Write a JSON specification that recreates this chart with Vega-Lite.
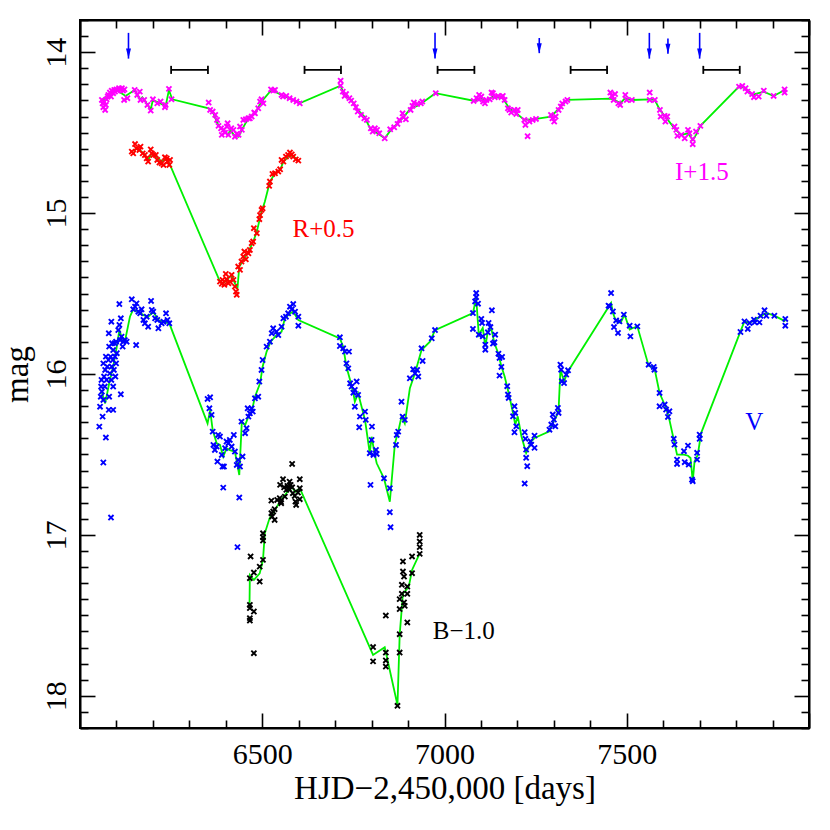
{
"$schema": "https://vega.github.io/schema/vega-lite/v6.json",
"autosize": "none",
"padding": {"left": 80, "top": 20, "right": 21, "bottom": 102},
"width": 729,
"height": 708,
"background": "white",
"config": {
  "view": {"stroke": "black", "strokeWidth": 2},
  "font": "Liberation Serif",
  "axis": {"grid": false, "domainColor": "black", "domainWidth": 2, "tickColor": "black", "tickWidth": 1.6, "labelFont": "Liberation Serif", "labelFontSize": 30, "labelColor": "black", "titleFont": "Liberation Serif", "titleFontSize": 33, "titleFontWeight": "normal", "titleColor": "black", "labelOverlap": false, "labelFlush": false, "labelBound": false}
},
"resolve": {"axis": {"x": "independent", "y": "independent"}},
"datasets": {
"pts": [
{"b":"I","t":6060,"m":14.297},{"b":"I","t":6062,"m":14.318},{"b":"I","t":6064,"m":14.342},{"b":"I","t":6066,"m":14.307},{"b":"I","t":6069,"m":14.359},{"b":"I","t":6071,"m":14.328},{"b":"I","t":6073,"m":14.293},{"b":"I","t":6076,"m":14.276},{"b":"I","t":6078,"m":14.266},{"b":"I","t":6082,"m":14.251},{"b":"I","t":6085,"m":14.276},{"b":"I","t":6087,"m":14.239},{"b":"I","t":6091,"m":14.255},{"b":"I","t":6094,"m":14.235},{"b":"I","t":6096,"m":14.245},{"b":"I","t":6100,"m":14.231},{"b":"I","t":6103,"m":14.239},{"b":"I","t":6107,"m":14.224},{"b":"I","t":6111,"m":14.235},{"b":"I","t":6115,"m":14.224},{"b":"I","t":6118,"m":14.239},{"b":"I","t":6122,"m":14.231},{"b":"I","t":6121,"m":14.297},{"b":"I","t":6130,"m":14.286},{"b":"I","t":6150,"m":14.235},{"b":"I","t":6157,"m":14.266},{"b":"I","t":6164,"m":14.245},{"b":"I","t":6166,"m":14.297},{"b":"I","t":6176,"m":14.297},{"b":"I","t":6185,"m":14.328},{"b":"I","t":6194,"m":14.363},{"b":"I","t":6200,"m":14.293},{"b":"I","t":6212,"m":14.318},{"b":"I","t":6221,"m":14.307},{"b":"I","t":6233,"m":14.342},{"b":"I","t":6235,"m":14.328},{"b":"I","t":6244,"m":14.228},{"b":"I","t":6251,"m":14.293},
{"b":"I","t":6353,"m":14.313},{"b":"I","t":6357,"m":14.359},{"b":"I","t":6364,"m":14.369},{"b":"I","t":6371,"m":14.39},{"b":"I","t":6376,"m":14.421},{"b":"I","t":6380,"m":14.458},{"b":"I","t":6387,"m":14.473},{"b":"I","t":6389,"m":14.514},{"b":"I","t":6394,"m":14.483},{"b":"I","t":6398,"m":14.5},{"b":"I","t":6403,"m":14.462},{"b":"I","t":6407,"m":14.514},{"b":"I","t":6405,"m":14.442},{"b":"I","t":6415,"m":14.473},{"b":"I","t":6421,"m":14.483},{"b":"I","t":6425,"m":14.525},{"b":"I","t":6430,"m":14.508},{"b":"I","t":6435,"m":14.514},{"b":"I","t":6439,"m":14.462},{"b":"I","t":6444,"m":14.483},{"b":"I","t":6448,"m":14.421},{"b":"I","t":6455,"m":14.417},{"b":"I","t":6462,"m":14.411},{"b":"I","t":6466,"m":14.411},{"b":"I","t":6471,"m":14.4},{"b":"I","t":6478,"m":14.375},{"b":"I","t":6480,"m":14.38},{"b":"I","t":6489,"m":14.349},{"b":"I","t":6494,"m":14.307},{"b":"I","t":6498,"m":14.293},{"b":"I","t":6503,"m":14.318},{"b":"I","t":6524,"m":14.231},{"b":"I","t":6530,"m":14.239},{"b":"I","t":6535,"m":14.235},{"b":"I","t":6553,"m":14.266},{"b":"I","t":6557,"m":14.276},{"b":"I","t":6566,"m":14.272},{"b":"I","t":6575,"m":14.286},{"b":"I","t":6585,"m":14.297},{"b":"I","t":6594,"m":14.307},{"b":"I","t":6603,"m":14.318},
{"b":"I","t":6715,"m":14.177},{"b":"I","t":6715,"m":14.208},{"b":"I","t":6721,"m":14.245},{"b":"I","t":6726,"m":14.272},{"b":"I","t":6730,"m":14.26},{"b":"I","t":6739,"m":14.286},{"b":"I","t":6744,"m":14.301},{"b":"I","t":6751,"m":14.318},{"b":"I","t":6757,"m":14.342},{"b":"I","t":6762,"m":14.369},{"b":"I","t":6771,"m":14.39},{"b":"I","t":6780,"m":14.411},{"b":"I","t":6787,"m":14.421},{"b":"I","t":6798,"m":14.473},{"b":"I","t":6803,"m":14.493},{"b":"I","t":6809,"m":14.473},{"b":"I","t":6815,"m":14.483},{"b":"I","t":6821,"m":14.504},{"b":"I","t":6836,"m":14.535},{"b":"I","t":6851,"m":14.479},{"b":"I","t":6862,"m":14.467},{"b":"I","t":6871,"m":14.446},{"b":"I","t":6876,"m":14.421},{"b":"I","t":6885,"m":14.38},{"b":"I","t":6887,"m":14.404},{"b":"I","t":6894,"m":14.417},{"b":"I","t":6907,"m":14.359},{"b":"I","t":6912,"m":14.334},{"b":"I","t":6916,"m":14.313},{"b":"I","t":6925,"m":14.322},{"b":"I","t":6935,"m":14.318},{"b":"I","t":6939,"m":14.307},{"b":"I","t":6976,"m":14.255},{"b":"I","t":7080,"m":14.303},{"b":"I","t":7094,"m":14.293},
{"b":"I","t":7088,"m":14.286},{"b":"I","t":7095,"m":14.266},{"b":"I","t":7101,"m":14.276},{"b":"I","t":7106,"m":14.307},{"b":"I","t":7111,"m":14.318},{"b":"I","t":7115,"m":14.297},{"b":"I","t":7124,"m":14.293},{"b":"I","t":7129,"m":14.251},{"b":"I","t":7133,"m":14.255},{"b":"I","t":7138,"m":14.28},{"b":"I","t":7147,"m":14.272},{"b":"I","t":7156,"m":14.28},{"b":"I","t":7160,"m":14.272},{"b":"I","t":7165,"m":14.297},{"b":"I","t":7174,"m":14.349},{"b":"I","t":7178,"m":14.359},{"b":"I","t":7183,"m":14.375},{"b":"I","t":7192,"m":14.359},{"b":"I","t":7197,"m":14.384},{"b":"I","t":7201,"m":14.359},{"b":"I","t":7219,"m":14.421},{"b":"I","t":7222,"m":14.452},{"b":"I","t":7228,"m":14.522},{"b":"I","t":7233,"m":14.431},{"b":"I","t":7242,"m":14.421},{"b":"I","t":7251,"m":14.415},{"b":"I","t":7292,"m":14.39},{"b":"I","t":7296,"m":14.411},{"b":"I","t":7301,"m":14.431},{"b":"I","t":7305,"m":14.4},{"b":"I","t":7313,"m":14.359},{"b":"I","t":7319,"m":14.338},{"b":"I","t":7323,"m":14.318},{"b":"I","t":7332,"m":14.307},{"b":"I","t":7337,"m":14.297},{"b":"I","t":7455,"m":14.251},{"b":"I","t":7459,"m":14.272},{"b":"I","t":7464,"m":14.297},{"b":"I","t":7468,"m":14.26},{"b":"I","t":7477,"m":14.318},{"b":"I","t":7482,"m":14.328},{"b":"I","t":7496,"m":14.266},{"b":"I","t":7500,"m":14.297},{"b":"I","t":7514,"m":14.297},{"b":"I","t":7563,"m":14.251},{"b":"I","t":7563,"m":14.297},{"b":"I","t":7577,"m":14.297},{"b":"I","t":7591,"m":14.359},{"b":"I","t":7593,"m":14.4},{"b":"I","t":7604,"m":14.396},{"b":"I","t":7606,"m":14.431},{"b":"I","t":7611,"m":14.4},{"b":"I","t":7631,"m":14.462},{"b":"I","t":7636,"m":14.483},{"b":"I","t":7639,"m":14.52},{"b":"I","t":7650,"m":14.514},{"b":"I","t":7659,"m":14.535},{"b":"I","t":7668,"m":14.483},{"b":"I","t":7672,"m":14.504},{"b":"I","t":7681,"m":14.541},{"b":"I","t":7681,"m":14.572},{"b":"I","t":7690,"m":14.493},{"b":"I","t":7702,"m":14.458},{"b":"I","t":7808,"m":14.214},{"b":"I","t":7817,"m":14.21},{"b":"I","t":7826,"m":14.224},{"b":"I","t":7831,"m":14.245},{"b":"I","t":7844,"m":14.26},{"b":"I","t":7849,"m":14.28},{"b":"I","t":7862,"m":14.276},{"b":"I","t":7876,"m":14.239},{"b":"I","t":7903,"m":14.272},{"b":"I","t":7933,"m":14.231},{"b":"I","t":7933,"m":14.251},
{"b":"R","t":6142,"m":14.618},{"b":"R","t":6146,"m":14.629},{"b":"R","t":6151,"m":14.571},{"b":"R","t":6155,"m":14.598},{"b":"R","t":6163,"m":14.608},{"b":"R","t":6166,"m":14.587},{"b":"R","t":6172,"m":14.629},{"b":"R","t":6178,"m":14.639},{"b":"R","t":6183,"m":14.66},{"b":"R","t":6187,"m":14.68},{"b":"R","t":6194,"m":14.604},{"b":"R","t":6197,"m":14.629},{"b":"R","t":6201,"m":14.639},{"b":"R","t":6208,"m":14.639},{"b":"R","t":6212,"m":14.67},{"b":"R","t":6218,"m":14.686},{"b":"R","t":6224,"m":14.691},{"b":"R","t":6229,"m":14.701},{"b":"R","t":6233,"m":14.653},{"b":"R","t":6238,"m":14.66},{"b":"R","t":6240,"m":14.68},{"b":"R","t":6245,"m":14.701},{"b":"R","t":6247,"m":14.67},{"b":"R","t":6384,"m":15.426},{"b":"R","t":6389,"m":15.44},{"b":"R","t":6391,"m":15.415},{"b":"R","t":6396,"m":15.446},{"b":"R","t":6400,"m":15.378},{"b":"R","t":6402,"m":15.411},{"b":"R","t":6407,"m":15.436},{"b":"R","t":6411,"m":15.426},{"b":"R","t":6416,"m":15.384},{"b":"R","t":6421,"m":15.415},{"b":"R","t":6425,"m":15.457},{"b":"R","t":6428,"m":15.488},{"b":"R","t":6430,"m":15.508},{"b":"R","t":6434,"m":15.332},{"b":"R","t":6439,"m":15.353},{"b":"R","t":6443,"m":15.301},{"b":"R","t":6448,"m":15.27},{"b":"R","t":6451,"m":15.239},{"b":"R","t":6455,"m":15.287},{"b":"R","t":6462,"m":15.25},{"b":"R","t":6466,"m":15.229},{"b":"R","t":6471,"m":15.187},{"b":"R","t":6475,"m":15.177},{"b":"R","t":6477,"m":15.094},{"b":"R","t":6485,"m":15.125},{"b":"R","t":6492,"m":15.038},{"b":"R","t":6494,"m":15.012},{"b":"R","t":6498,"m":14.98},{"b":"R","t":6501,"m":14.97},{"b":"R","t":6519,"m":14.831},{"b":"R","t":6521,"m":14.804},{"b":"R","t":6528,"m":14.757},{"b":"R","t":6535,"m":14.753},{"b":"R","t":6544,"m":14.742},{"b":"R","t":6549,"m":14.728},{"b":"R","t":6553,"m":14.67},{"b":"R","t":6558,"m":14.68},{"b":"R","t":6565,"m":14.649},{"b":"R","t":6571,"m":14.639},{"b":"R","t":6576,"m":14.624},{"b":"R","t":6581,"m":14.635},{"b":"R","t":6585,"m":14.649},{"b":"R","t":6592,"m":14.666},{"b":"R","t":6599,"m":14.674},
{"b":"V","t":6053,"m":16.327},{"b":"V","t":6055,"m":16.203},{"b":"V","t":6057,"m":16.141},{"b":"V","t":6058,"m":16.078},{"b":"V","t":6059,"m":16.037},{"b":"V","t":6060,"m":16.109},{"b":"V","t":6062,"m":16.265},{"b":"V","t":6064,"m":16.161},{"b":"V","t":6064,"m":15.934},{"b":"V","t":6066,"m":16.016},{"b":"V","t":6068,"m":16.078},{"b":"V","t":6069,"m":15.975},{"b":"V","t":6071,"m":15.892},{"b":"V","t":6073,"m":16.037},{"b":"V","t":6075,"m":15.954},{"b":"V","t":6078,"m":15.913},{"b":"V","t":6079,"m":16.223},{"b":"V","t":6080,"m":16.141},{"b":"V","t":6080,"m":15.83},{"b":"V","t":6082,"m":15.996},{"b":"V","t":6084,"m":15.892},{"b":"V","t":6086,"m":16.037},{"b":"V","t":6087,"m":15.954},{"b":"V","t":6088,"m":15.809},{"b":"V","t":6090,"m":15.913},{"b":"V","t":6091,"m":16.078},{"b":"V","t":6091,"m":15.851},{"b":"V","t":6093,"m":15.975},{"b":"V","t":6095,"m":15.809},{"b":"V","t":6096,"m":15.892},{"b":"V","t":6097,"m":16.016},{"b":"V","t":6099,"m":15.934},{"b":"V","t":6099,"m":15.799},{"b":"V","t":6101,"m":15.871},{"b":"V","t":6105,"m":15.727},{"b":"V","t":6108,"m":15.695},{"b":"V","t":6110,"m":15.789},{"b":"V","t":6112,"m":15.654},{"b":"V","t":6114,"m":15.768},{"b":"V","t":6117,"m":15.83},{"b":"V","t":6119,"m":15.799},{"b":"V","t":6123,"m":15.789},{"b":"V","t":6128,"m":15.799},{"b":"V","t":6064,"m":16.55},{"b":"V","t":6071,"m":16.395},{"b":"V","t":6085,"m":16.892},{"b":"V","t":6112,"m":16.126},{"b":"V","t":6091,"m":16.223},{"b":"V","t":6108,"m":15.565},{"b":"V","t":6086,"m":15.675},{"b":"V","t":6079,"m":15.747},
{"b":"V","t":6142,"m":15.536},{"b":"V","t":6146,"m":15.598},{"b":"V","t":6151,"m":15.582},{"b":"V","t":6155,"m":15.561},{"b":"V","t":6160,"m":15.613},{"b":"V","t":6165,"m":15.623},{"b":"V","t":6169,"m":15.598},{"b":"V","t":6174,"m":15.664},{"b":"V","t":6178,"m":15.685},{"b":"V","t":6183,"m":15.644},{"b":"V","t":6187,"m":15.706},{"b":"V","t":6195,"m":15.546},{"b":"V","t":6197,"m":15.602},{"b":"V","t":6201,"m":15.613},{"b":"V","t":6206,"m":15.654},{"b":"V","t":6212,"m":15.664},{"b":"V","t":6215,"m":15.716},{"b":"V","t":6224,"m":15.685},{"b":"V","t":6229,"m":15.675},{"b":"V","t":6236,"m":15.623},{"b":"V","t":6240,"m":15.664},{"b":"V","t":6245,"m":15.685},{"b":"V","t":6154,"m":15.82},
{"b":"V","t":6350,"m":16.155},{"b":"V","t":6357,"m":16.145},{"b":"V","t":6355,"m":16.213},{"b":"V","t":6361,"m":16.254},{"b":"V","t":6364,"m":16.358},{"b":"V","t":6366,"m":16.441},{"b":"V","t":6370,"m":16.472},{"b":"V","t":6375,"m":16.451},{"b":"V","t":6377,"m":16.544},{"b":"V","t":6379,"m":16.379},{"b":"V","t":6384,"m":16.389},{"b":"V","t":6389,"m":16.503},{"b":"V","t":6391,"m":16.575},{"b":"V","t":6395,"m":16.575},{"b":"V","t":6398,"m":16.461},{"b":"V","t":6402,"m":16.42},{"b":"V","t":6407,"m":16.43},{"b":"V","t":6411,"m":16.41},{"b":"V","t":6416,"m":16.451},{"b":"V","t":6422,"m":16.379},{"b":"V","t":6425,"m":16.482},{"b":"V","t":6430,"m":16.565},{"b":"V","t":6434,"m":16.534},{"b":"V","t":6439,"m":16.575},{"b":"V","t":6443,"m":16.296},{"b":"V","t":6446,"m":16.513},{"b":"V","t":6453,"m":16.368},{"b":"V","t":6457,"m":16.337},{"b":"V","t":6460,"m":16.213},{"b":"V","t":6462,"m":16.265},{"b":"V","t":6466,"m":16.244},{"b":"V","t":6471,"m":16.213},{"b":"V","t":6474,"m":16.234},{"b":"V","t":6480,"m":16.151},{"b":"V","t":6489,"m":16.141},{"b":"V","t":6492,"m":16.047},{"b":"V","t":6498,"m":15.975},{"b":"V","t":6501,"m":15.913},{"b":"V","t":6512,"m":15.83},{"b":"V","t":6521,"m":15.799},{"b":"V","t":6526,"m":15.747},{"b":"V","t":6530,"m":15.716},{"b":"V","t":6539,"m":15.737},{"b":"V","t":6544,"m":15.758},{"b":"V","t":6553,"m":15.706},{"b":"V","t":6558,"m":15.654},{"b":"V","t":6565,"m":15.644},{"b":"V","t":6571,"m":15.623},{"b":"V","t":6576,"m":15.582},{"b":"V","t":6581,"m":15.598},{"b":"V","t":6585,"m":15.565},{"b":"V","t":6590,"m":15.613},{"b":"V","t":6599,"m":15.644},{"b":"V","t":6599,"m":15.7},{"b":"V","t":6393,"m":16.706},{"b":"V","t":6437,"m":16.768},{"b":"V","t":6432,"m":17.076},
{"b":"V","t":6713,"m":15.772},{"b":"V","t":6713,"m":15.826},{"b":"V","t":6722,"m":15.84},{"b":"V","t":6727,"m":15.861},{"b":"V","t":6731,"m":15.934},{"b":"V","t":6736,"m":15.965},{"b":"V","t":6738,"m":15.861},{"b":"V","t":6741,"m":16.058},{"b":"V","t":6745,"m":16.078},{"b":"V","t":6750,"m":16.116},{"b":"V","t":6754,"m":16.099},{"b":"V","t":6759,"m":16.047},{"b":"V","t":6763,"m":16.13},{"b":"V","t":6754,"m":16.203},{"b":"V","t":6768,"m":16.265},{"b":"V","t":6766,"m":16.331},{"b":"V","t":6782,"m":16.234},{"b":"V","t":6784,"m":16.285},{"b":"V","t":6795,"m":16.492},{"b":"V","t":6797,"m":16.689},{"b":"V","t":6800,"m":16.41},{"b":"V","t":6801,"m":16.327},{"b":"V","t":6805,"m":16.503},{"b":"V","t":6812,"m":16.472},{"b":"V","t":6814,"m":16.497},{"b":"V","t":6834,"m":16.648},{"b":"V","t":6850,"m":16.859},{"b":"V","t":6852,"m":16.952},{"b":"V","t":6850,"m":16.71},{"b":"V","t":6867,"m":16.441},{"b":"V","t":6869,"m":16.379},{"b":"V","t":6873,"m":16.358},{"b":"V","t":6882,"m":16.172},{"b":"V","t":6885,"m":16.265},{"b":"V","t":6891,"m":16.285},{"b":"V","t":6905,"m":16.027},{"b":"V","t":6914,"m":15.971},{"b":"V","t":6919,"m":15.996},{"b":"V","t":6925,"m":15.975},{"b":"V","t":6928,"m":16.016},{"b":"V","t":6937,"m":15.84},{"b":"V","t":6940,"m":15.919},{"b":"V","t":6965,"m":15.778},{"b":"V","t":6974,"m":15.727},
{"b":"V","t":7078,"m":15.621},{"b":"V","t":7078,"m":15.72},{"b":"V","t":7084,"m":15.549},{"b":"V","t":7087,"m":15.497},{"b":"V","t":7087,"m":15.522},{"b":"V","t":7092,"m":15.563},{"b":"V","t":7094,"m":15.756},{"b":"V","t":7101,"m":15.658},{"b":"V","t":7103,"m":15.683},{"b":"V","t":7105,"m":15.766},{"b":"V","t":7112,"m":15.818},{"b":"V","t":7112,"m":15.849},{"b":"V","t":7119,"m":15.741},{"b":"V","t":7121,"m":15.683},{"b":"V","t":7126,"m":15.708},{"b":"V","t":7130,"m":15.604},{"b":"V","t":7133,"m":15.811},{"b":"V","t":7137,"m":15.803},{"b":"V","t":7139,"m":15.756},{"b":"V","t":7148,"m":15.874},{"b":"V","t":7151,"m":15.9},{"b":"V","t":7156,"m":15.956},{"b":"V","t":7151,"m":16.01},{"b":"V","t":7158,"m":15.894},{"b":"V","t":7172,"m":16.076},{"b":"V","t":7174,"m":16.128},{"b":"V","t":7176,"m":16.149},{"b":"V","t":7188,"m":16.263},{"b":"V","t":7192,"m":16.201},{"b":"V","t":7194,"m":16.242},{"b":"V","t":7192,"m":16.362},{"b":"V","t":7197,"m":16.325},{"b":"V","t":7220,"m":16.362},{"b":"V","t":7222,"m":16.403},{"b":"V","t":7224,"m":16.47},{"b":"V","t":7224,"m":16.521},{"b":"V","t":7227,"m":16.573},{"b":"V","t":7220,"m":16.681},{"b":"V","t":7236,"m":16.418},{"b":"V","t":7238,"m":16.439},{"b":"V","t":7247,"m":16.383},{"b":"V","t":7247,"m":16.459},{"b":"V","t":7288,"m":16.346},{"b":"V","t":7293,"m":16.314},{"b":"V","t":7297,"m":16.252},{"b":"V","t":7300,"m":16.283},{"b":"V","t":7304,"m":16.325},{"b":"V","t":7311,"m":16.211},{"b":"V","t":7313,"m":16.242},{"b":"V","t":7318,"m":15.942},{"b":"V","t":7320,"m":15.973},{"b":"V","t":7322,"m":16.045},{"b":"V","t":7328,"m":16.056},{"b":"V","t":7334,"m":16.004},{"b":"V","t":7339,"m":15.977},
{"b":"V","t":7450,"m":15.575},{"b":"V","t":7453,"m":15.58},{"b":"V","t":7457,"m":15.497},{"b":"V","t":7462,"m":15.611},{"b":"V","t":7465,"m":15.708},{"b":"V","t":7471,"m":15.667},{"b":"V","t":7476,"m":15.745},{"b":"V","t":7480,"m":15.673},{"b":"V","t":7492,"m":15.631},{"b":"V","t":7508,"m":15.7},{"b":"V","t":7510,"m":15.766},{"b":"V","t":7529,"m":15.704},{"b":"V","t":7560,"m":15.942},{"b":"V","t":7574,"m":15.956},{"b":"V","t":7576,"m":15.973},{"b":"V","t":7590,"m":16.118},{"b":"V","t":7590,"m":16.201},{"b":"V","t":7604,"m":16.19},{"b":"V","t":7608,"m":16.221},{"b":"V","t":7613,"m":16.267},{"b":"V","t":7617,"m":16.232},{"b":"V","t":7629,"m":16.403},{"b":"V","t":7631,"m":16.439},{"b":"V","t":7638,"m":16.532},{"b":"V","t":7638,"m":16.559},{"b":"V","t":7657,"m":16.48},{"b":"V","t":7659,"m":16.548},{"b":"V","t":7668,"m":16.445},{"b":"V","t":7670,"m":16.563},{"b":"V","t":7679,"m":16.656},{"b":"V","t":7681,"m":16.666},{"b":"V","t":7693,"m":16.49},{"b":"V","t":7693,"m":16.532},{"b":"V","t":7700,"m":16.377},{"b":"V","t":7700,"m":16.403},{"b":"V","t":7812,"m":15.739},{"b":"V","t":7823,"m":15.673},{"b":"V","t":7832,"m":15.72},{"b":"V","t":7837,"m":15.683},{"b":"V","t":7849,"m":15.662},{"b":"V","t":7851,"m":15.679},{"b":"V","t":7864,"m":15.679},{"b":"V","t":7867,"m":15.638},{"b":"V","t":7878,"m":15.604},{"b":"V","t":7883,"m":15.638},{"b":"V","t":7905,"m":15.638},{"b":"V","t":7935,"m":15.658},{"b":"V","t":7935,"m":15.7},
{"b":"B","t":6466,"m":17.269},{"b":"B","t":6466,"m":17.435},{"b":"B","t":6466,"m":17.455},{"b":"B","t":6466,"m":17.517},{"b":"B","t":6466,"m":17.532},{"b":"B","t":6468,"m":17.134},{"b":"B","t":6477,"m":17.234},{"b":"B","t":6477,"m":17.476},{"b":"B","t":6477,"m":17.735},{"b":"B","t":6493,"m":17.197},{"b":"B","t":6493,"m":17.29},{"b":"B","t":6502,"m":17.155},{"b":"B","t":6502,"m":16.99},{"b":"B","t":6502,"m":17.014},{"b":"B","t":6502,"m":17.035},{"b":"B","t":6525,"m":16.787},{"b":"B","t":6525,"m":16.865},{"b":"B","t":6527,"m":16.886},{"b":"B","t":6530,"m":16.855},{"b":"B","t":6534,"m":16.84},{"b":"B","t":6534,"m":16.907},{"b":"B","t":6541,"m":16.783},{"b":"B","t":6548,"m":16.772},{"b":"B","t":6551,"m":16.793},{"b":"B","t":6552,"m":16.803},{"b":"B","t":6549,"m":16.689},{"b":"B","t":6557,"m":16.654},{"b":"B","t":6560,"m":16.704},{"b":"B","t":6562,"m":16.762},{"b":"B","t":6566,"m":16.72},{"b":"B","t":6569,"m":16.696},{"b":"B","t":6573,"m":16.716},{"b":"B","t":6575,"m":16.669},{"b":"B","t":6578,"m":16.689},{"b":"B","t":6582,"m":16.559},{"b":"B","t":6582,"m":16.704},{"b":"B","t":6584,"m":16.741},{"b":"B","t":6589,"m":16.758},{"b":"B","t":6591,"m":16.793},{"b":"B","t":6593,"m":16.814},{"b":"B","t":6598,"m":16.737},{"b":"B","t":6603,"m":16.654},{"b":"B","t":6603,"m":16.71},{"b":"B","t":6603,"m":16.778},{"b":"B","t":6804,"m":17.697},{"b":"B","t":6804,"m":17.786},{"b":"B","t":6839,"m":17.501},{"b":"B","t":6839,"m":17.731},{"b":"B","t":6839,"m":17.78},{"b":"B","t":6839,"m":17.818},{"b":"B","t":6871,"m":18.062},{"b":"B","t":6877,"m":17.399},{"b":"B","t":6877,"m":17.461},{"b":"B","t":6877,"m":17.617},{"b":"B","t":6877,"m":17.731},{"b":"B","t":6883,"m":17.31},{"b":"B","t":6883,"m":17.366},{"b":"B","t":6886,"m":17.165},{"b":"B","t":6886,"m":17.228},{"b":"B","t":6889,"m":17.259},{"b":"B","t":6889,"m":17.42},{"b":"B","t":6891,"m":17.441},{"b":"B","t":6898,"m":17.321},{"b":"B","t":6898,"m":17.366},{"b":"B","t":6898,"m":17.544},{"b":"B","t":6911,"m":17.238},{"b":"B","t":6911,"m":17.134},{"b":"B","t":6932,"m":17.0},{"b":"B","t":6932,"m":17.041},{"b":"B","t":6932,"m":17.076},{"b":"B","t":6932,"m":17.118}
],
"lines": [
{"b":"I","t":6062,"m":14.3},{"b":"I","t":6080,"m":14.26},{"b":"I","t":6100,"m":14.235},{"b":"I","t":6125,"m":14.272},{"b":"I","t":6150,"m":14.235},{"b":"I","t":6164,"m":14.293},{"b":"I","t":6171,"m":14.28},{"b":"I","t":6194,"m":14.355},{"b":"I","t":6200,"m":14.297},{"b":"I","t":6235,"m":14.334},{"b":"I","t":6244,"m":14.235},{"b":"I","t":6253,"m":14.293},{"b":"I","t":6353,"m":14.349},{"b":"I","t":6366,"m":14.38},{"b":"I","t":6380,"m":14.458},{"b":"I","t":6394,"m":14.483},{"b":"I","t":6407,"m":14.514},{"b":"I","t":6412,"m":14.483},{"b":"I","t":6424,"m":14.52},{"b":"I","t":6435,"m":14.525},{"b":"I","t":6444,"m":14.483},{"b":"I","t":6462,"m":14.41},{"b":"I","t":6480,"m":14.38},{"b":"I","t":6498,"m":14.307},{"b":"I","t":6525,"m":14.235},{"b":"I","t":6553,"m":14.266},{"b":"I","t":6580,"m":14.293},{"b":"I","t":6607,"m":14.313},{"b":"I","t":6715,"m":14.208},{"b":"I","t":6725,"m":14.266},{"b":"I","t":6744,"m":14.297},{"b":"I","t":6762,"m":14.359},{"b":"I","t":6780,"m":14.4},{"b":"I","t":6798,"m":14.483},{"b":"I","t":6816,"m":14.504},{"b":"I","t":6836,"m":14.535},{"b":"I","t":6853,"m":14.483},{"b":"I","t":6871,"m":14.442},{"b":"I","t":6889,"m":14.4},{"b":"I","t":6907,"m":14.349},{"b":"I","t":6925,"m":14.334},{"b":"I","t":6944,"m":14.307},{"b":"I","t":6975,"m":14.255},{"b":"I","t":7083,"m":14.303},{"b":"I","t":7097,"m":14.286},{"b":"I","t":7115,"m":14.297},{"b":"I","t":7133,"m":14.276},{"b":"I","t":7160,"m":14.287},{"b":"I","t":7178,"m":14.349},{"b":"I","t":7197,"m":14.38},{"b":"I","t":7219,"m":14.421},{"b":"I","t":7251,"m":14.415},{"b":"I","t":7292,"m":14.4},{"b":"I","t":7314,"m":14.349},{"b":"I","t":7337,"m":14.297},{"b":"I","t":7455,"m":14.289},{"b":"I","t":7468,"m":14.297},{"b":"I","t":7482,"m":14.318},{"b":"I","t":7495,"m":14.287},{"b":"I","t":7514,"m":14.297},{"b":"I","t":7563,"m":14.293},{"b":"I","t":7577,"m":14.297},{"b":"I","t":7591,"m":14.359},{"b":"I","t":7609,"m":14.41},{"b":"I","t":7631,"m":14.473},{"b":"I","t":7649,"m":14.514},{"b":"I","t":7668,"m":14.504},{"b":"I","t":7681,"m":14.545},{"b":"I","t":7690,"m":14.514},{"b":"I","t":7702,"m":14.458},{"b":"I","t":7808,"m":14.214},{"b":"I","t":7826,"m":14.224},{"b":"I","t":7844,"m":14.266},{"b":"I","t":7876,"m":14.245},{"b":"I","t":7903,"m":14.272},{"b":"I","t":7933,"m":14.235},
{"b":"R","t":6142,"m":14.618},{"b":"R","t":6155,"m":14.598},{"b":"R","t":6169,"m":14.618},{"b":"R","t":6178,"m":14.639},{"b":"R","t":6187,"m":14.67},{"b":"R","t":6197,"m":14.629},{"b":"R","t":6210,"m":14.65},{"b":"R","t":6224,"m":14.68},{"b":"R","t":6238,"m":14.66},{"b":"R","t":6247,"m":14.701},{"b":"R","t":6384,"m":15.426},{"b":"R","t":6393,"m":15.437},{"b":"R","t":6402,"m":15.416},{"b":"R","t":6416,"m":15.385},{"b":"R","t":6425,"m":15.437},{"b":"R","t":6432,"m":15.468},{"b":"R","t":6437,"m":15.333},{"b":"R","t":6448,"m":15.292},{"b":"R","t":6462,"m":15.24},{"b":"R","t":6475,"m":15.178},{"b":"R","t":6485,"m":15.116},{"b":"R","t":6498,"m":14.991},{"b":"R","t":6507,"m":14.929},{"b":"R","t":6521,"m":14.805},{"b":"R","t":6535,"m":14.753},{"b":"R","t":6549,"m":14.732},{"b":"R","t":6558,"m":14.68},{"b":"R","t":6576,"m":14.639},{"b":"R","t":6594,"m":14.66},
{"b":"V","t":6058,"m":16.1},{"b":"V","t":6069,"m":16.183},{"b":"V","t":6082,"m":16.037},{"b":"V","t":6091,"m":15.955},{"b":"V","t":6101,"m":15.83},{"b":"V","t":6108,"m":15.727},{"b":"V","t":6114,"m":15.768},{"b":"V","t":6123,"m":15.799},{"b":"V","t":6137,"m":15.644},{"b":"V","t":6146,"m":15.598},{"b":"V","t":6160,"m":15.613},{"b":"V","t":6174,"m":15.634},{"b":"V","t":6187,"m":15.644},{"b":"V","t":6201,"m":15.613},{"b":"V","t":6215,"m":15.665},{"b":"V","t":6229,"m":15.675},{"b":"V","t":6245,"m":15.685},{"b":"V","t":6350,"m":16.307},{"b":"V","t":6357,"m":16.224},{"b":"V","t":6364,"m":16.348},{"b":"V","t":6375,"m":16.431},{"b":"V","t":6384,"m":16.441},{"b":"V","t":6393,"m":16.514},{"b":"V","t":6402,"m":16.462},{"b":"V","t":6411,"m":16.473},{"b":"V","t":6425,"m":16.483},{"b":"V","t":6437,"m":16.628},{"b":"V","t":6444,"m":16.296},{"b":"V","t":6453,"m":16.317},{"b":"V","t":6462,"m":16.265},{"b":"V","t":6471,"m":16.234},{"b":"V","t":6480,"m":16.141},{"b":"V","t":6494,"m":16.058},{"b":"V","t":6501,"m":15.955},{"b":"V","t":6512,"m":15.861},{"b":"V","t":6523,"m":15.799},{"b":"V","t":6539,"m":15.758},{"b":"V","t":6553,"m":15.737},{"b":"V","t":6562,"m":15.654},{"b":"V","t":6576,"m":15.623},{"b":"V","t":6585,"m":15.613},{"b":"V","t":6599,"m":15.665},{"b":"V","t":6713,"m":15.779},{"b":"V","t":6722,"m":15.83},{"b":"V","t":6731,"m":15.955},{"b":"V","t":6741,"m":16.037},{"b":"V","t":6750,"m":16.12},{"b":"V","t":6754,"m":16.172},{"b":"V","t":6763,"m":16.12},{"b":"V","t":6782,"m":16.286},{"b":"V","t":6795,"m":16.493},{"b":"V","t":6800,"m":16.39},{"b":"V","t":6809,"m":16.504},{"b":"V","t":6814,"m":16.555},{"b":"V","t":6834,"m":16.649},{"b":"V","t":6850,"m":16.794},{"b":"V","t":6864,"m":16.431},{"b":"V","t":6873,"m":16.359},{"b":"V","t":6882,"m":16.265},{"b":"V","t":6891,"m":16.307},{"b":"V","t":6905,"m":16.089},{"b":"V","t":6919,"m":15.996},{"b":"V","t":6937,"m":15.851},{"b":"V","t":6960,"m":15.799},{"b":"V","t":6974,"m":15.727},{"b":"V","t":7078,"m":15.621},{"b":"V","t":7087,"m":15.528},{"b":"V","t":7094,"m":15.756},{"b":"V","t":7105,"m":15.714},{"b":"V","t":7112,"m":15.828},{"b":"V","t":7119,"m":15.735},{"b":"V","t":7128,"m":15.714},{"b":"V","t":7137,"m":15.807},{"b":"V","t":7147,"m":15.869},{"b":"V","t":7156,"m":15.952},{"b":"V","t":7165,"m":16.015},{"b":"V","t":7176,"m":16.118},{"b":"V","t":7188,"m":16.242},{"b":"V","t":7194,"m":16.315},{"b":"V","t":7201,"m":16.263},{"b":"V","t":7211,"m":16.387},{"b":"V","t":7224,"m":16.491},{"b":"V","t":7238,"m":16.418},{"b":"V","t":7247,"m":16.398},{"b":"V","t":7288,"m":16.356},{"b":"V","t":7297,"m":16.305},{"b":"V","t":7307,"m":16.263},{"b":"V","t":7313,"m":16.222},{"b":"V","t":7318,"m":15.973},{"b":"V","t":7328,"m":16.046},{"b":"V","t":7339,"m":15.983},{"b":"V","t":7457,"m":15.559},{"b":"V","t":7462,"m":15.621},{"b":"V","t":7471,"m":15.673},{"b":"V","t":7483,"m":15.683},{"b":"V","t":7494,"m":15.631},{"b":"V","t":7508,"m":15.724},{"b":"V","t":7517,"m":15.714},{"b":"V","t":7529,"m":15.704},{"b":"V","t":7560,"m":15.948},{"b":"V","t":7576,"m":15.963},{"b":"V","t":7590,"m":16.118},{"b":"V","t":7608,"m":16.211},{"b":"V","t":7617,"m":16.284},{"b":"V","t":7629,"m":16.408},{"b":"V","t":7638,"m":16.501},{"b":"V","t":7657,"m":16.501},{"b":"V","t":7668,"m":16.508},{"b":"V","t":7675,"m":16.522},{"b":"V","t":7681,"m":16.667},{"b":"V","t":7686,"m":16.543},{"b":"V","t":7695,"m":16.501},{"b":"V","t":7704,"m":16.367},{"b":"V","t":7812,"m":15.735},{"b":"V","t":7823,"m":15.673},{"b":"V","t":7837,"m":15.683},{"b":"V","t":7851,"m":15.662},{"b":"V","t":7867,"m":15.642},{"b":"V","t":7883,"m":15.621},{"b":"V","t":7905,"m":15.637},{"b":"V","t":7935,"m":15.673},
{"b":"B","t":6465,"m":17.446},{"b":"B","t":6466,"m":17.249},{"b":"B","t":6477,"m":17.28},{"b":"B","t":6493,"m":17.239},{"b":"B","t":6502,"m":17.156},{"b":"B","t":6507,"m":16.99},{"b":"B","t":6520,"m":16.897},{"b":"B","t":6532,"m":16.855},{"b":"B","t":6543,"m":16.814},{"b":"B","t":6552,"m":16.783},{"b":"B","t":6566,"m":16.741},{"b":"B","t":6580,"m":16.7},{"b":"B","t":6591,"m":16.731},{"b":"B","t":6603,"m":16.71},{"b":"B","t":6804,"m":17.746},{"b":"B","t":6836,"m":17.698},{"b":"B","t":6871,"m":18.057},{"b":"B","t":6877,"m":17.622},{"b":"B","t":6886,"m":17.363},{"b":"B","t":6895,"m":17.342},{"b":"B","t":6902,"m":17.321},{"b":"B","t":6911,"m":17.218},{"b":"B","t":6932,"m":17.114}
],
"labels": [
{"b":"I","txt":"I+1.5","t":7706,"m":14.745},
{"b":"R","txt":"R+0.5","t":6668,"m":15.1},
{"b":"V","txt":"V","t":7850,"m":16.3},
{"b":"B","txt":"B−1.0","t":7053,"m":17.597}
],
"brackets": [
{"t1":6250,"t2":6351,"m":14.11},{"t1":6616,"t2":6716,"m":14.11},{"t1":6981,"t2":7082,"m":14.11},{"t1":7346,"t2":7446,"m":14.11},{"t1":7710,"t2":7810,"m":14.11}
],
"caps": [
{"t":6250,"m1":14.085,"m2":14.135},{"t":6351,"m1":14.085,"m2":14.135},{"t":6616,"m1":14.085,"m2":14.135},{"t":6716,"m1":14.085,"m2":14.135},{"t":6981,"m1":14.085,"m2":14.135},{"t":7082,"m1":14.085,"m2":14.135},{"t":7346,"m1":14.085,"m2":14.135},{"t":7446,"m1":14.085,"m2":14.135},{"t":7710,"m1":14.085,"m2":14.135},{"t":7810,"m1":14.085,"m2":14.135}
],
"arrows": [
{"t":6133,"m1":13.88,"m2":14.04},{"t":6974,"m1":13.88,"m2":14.04},{"t":7260,"m1":13.912,"m2":14.006},{"t":7562,"m1":13.88,"m2":14.04},{"t":7613,"m1":13.915,"m2":14.01},{"t":7700,"m1":13.88,"m2":14.04}
]
},
"layer": [
{
  "data": {"name": "lines"},
  "mark": {"type": "line", "color": "#00f000", "strokeWidth": 1.8},
  "encoding": {
    "x": {"field": "t", "type": "quantitative", "scale": {"domain": [6000, 8000], "nice": false, "zero": false},
      "axis": {"orient": "bottom", "values": [6000,6100,6200,6300,6400,6500,6600,6700,6800,6900,7000,7100,7200,7300,7400,7500,7600,7700,7800,7900,8000], "tickCount": 200, "labelOverlap": false, "labelFlush": false, "labelExpr": "datum.value % 500 === 0 && datum.value > 6000 && datum.value < 8000 ? format(datum.value, 'd') : ''", "labelBaseline": "alphabetic", "labelPadding": 50, "tickSize": {"condition": {"test": "datum.value % 500 === 0", "value": -15}, "value": -8}, "title": "HJD−2,450,000 [days]", "titleBaseline": "alphabetic", "titleY": 70}},
    "y": {"field": "m", "type": "quantitative", "scale": {"domain": [13.8, 18.2], "reverse": true, "nice": false, "zero": false},
      "axis": {"orient": "left", "values": [13.8,13.9,14,14.1,14.2,14.3,14.4,14.5,14.6,14.7,14.8,14.9,15,15.1,15.2,15.3,15.4,15.5,15.6,15.7,15.8,15.9,16,16.1,16.2,16.3,16.4,16.5,16.6,16.7,16.8,16.9,17,17.1,17.2,17.3,17.4,17.5,17.6,17.7,17.8,17.9,18,18.1,18.2], "tickCount": 200, "labelOverlap": false, "labelFlush": false, "labelExpr": "datum.value % 1 === 0 ? format(datum.value, 'd') : ''", "labelAngle": -90, "labelAlign": "center", "labelBaseline": "alphabetic", "labelPadding": 30, "tickSize": {"condition": {"test": "datum.value % 1 === 0", "value": -15}, "value": -8}, "title": "mag", "titleBaseline": "alphabetic", "titleX": -53}},
    "detail": {"field": "b", "type": "nominal"}
  }
},
{
  "data": {"name": "pts"},
  "mark": {"type": "point", "shape": "M-1,-1L1,1M-1,1L1,-1", "filled": false, "size": 26, "strokeWidth": 1.9, "opacity": 1},
  "encoding": {
    "x": {"field": "t", "type": "quantitative", "scale": {"domain": [6000, 8000], "nice": false, "zero": false},
      "axis": {"orient": "top", "values": [6000,6100,6200,6300,6400,6500,6600,6700,6800,6900,7000,7100,7200,7300,7400,7500,7600,7700,7800,7900,8000], "tickCount": 200, "labels": false, "title": null, "tickSize": {"condition": {"test": "datum.value % 500 === 0", "value": -15}, "value": -8}}},
    "y": {"field": "m", "type": "quantitative", "scale": {"domain": [13.8, 18.2], "reverse": true, "nice": false, "zero": false},
      "axis": {"orient": "right", "values": [13.8,13.9,14,14.1,14.2,14.3,14.4,14.5,14.6,14.7,14.8,14.9,15,15.1,15.2,15.3,15.4,15.5,15.6,15.7,15.8,15.9,16,16.1,16.2,16.3,16.4,16.5,16.6,16.7,16.8,16.9,17,17.1,17.2,17.3,17.4,17.5,17.6,17.7,17.8,17.9,18,18.1,18.2], "tickCount": 200, "labels": false, "title": null, "tickSize": {"condition": {"test": "datum.value % 1 === 0", "value": -15}, "value": -8}}},
    "color": {"field": "b", "type": "nominal", "scale": {"domain": ["I", "R", "V", "B"], "range": ["#ff00ff", "#ff0000", "#0000ff", "#000000"]}, "legend": null}
  }
},
{
  "data": {"name": "labels"},
  "mark": {"type": "text", "font": "Liberation Serif", "fontSize": 25, "align": "center", "baseline": "middle"},
  "encoding": {
    "x": {"field": "t", "type": "quantitative", "scale": {"domain": [6000, 8000], "nice": false, "zero": false}, "axis": null},
    "y": {"field": "m", "type": "quantitative", "scale": {"domain": [13.8, 18.2], "reverse": true, "nice": false, "zero": false}, "axis": null},
    "text": {"field": "txt", "type": "nominal"},
    "color": {"field": "b", "type": "nominal", "scale": {"domain": ["I", "R", "V", "B"], "range": ["#ff00ff", "#ff0000", "#0000ff", "#000000"]}, "legend": null}
  }
},
{
  "data": {"name": "brackets"},
  "mark": {"type": "rule", "color": "black", "strokeWidth": 1.8},
  "encoding": {
    "x": {"field": "t1", "type": "quantitative", "scale": {"domain": [6000, 8000], "nice": false, "zero": false}, "axis": null},
    "x2": {"field": "t2"},
    "y": {"field": "m", "type": "quantitative", "scale": {"domain": [13.8, 18.2], "reverse": true, "nice": false, "zero": false}, "axis": null}
  }
},
{
  "data": {"name": "caps"},
  "mark": {"type": "rule", "color": "black", "strokeWidth": 1.8},
  "encoding": {
    "x": {"field": "t", "type": "quantitative", "scale": {"domain": [6000, 8000], "nice": false, "zero": false}, "axis": null},
    "y": {"field": "m1", "type": "quantitative", "scale": {"domain": [13.8, 18.2], "reverse": true, "nice": false, "zero": false}, "axis": null},
    "y2": {"field": "m2"}
  }
},
{
  "data": {"name": "arrows"},
  "mark": {"type": "rule", "color": "#0000ff", "strokeWidth": 1.6},
  "encoding": {
    "x": {"field": "t", "type": "quantitative", "scale": {"domain": [6000, 8000], "nice": false, "zero": false}, "axis": null},
    "y": {"field": "m1", "type": "quantitative", "scale": {"domain": [13.8, 18.2], "reverse": true, "nice": false, "zero": false}, "axis": null},
    "y2": {"field": "m2"}
  }
},
{
  "data": {"name": "arrows"},
  "mark": {"type": "point", "shape": "M-0.5,-2L0.5,-2L0,0Z", "filled": true, "size": 100, "color": "#0000ff", "opacity": 1, "strokeWidth": 0},
  "encoding": {
    "x": {"field": "t", "type": "quantitative", "scale": {"domain": [6000, 8000], "nice": false, "zero": false}, "axis": null},
    "y": {"field": "m2", "type": "quantitative", "scale": {"domain": [13.8, 18.2], "reverse": true, "nice": false, "zero": false}, "axis": null}
  }
}
]
}
